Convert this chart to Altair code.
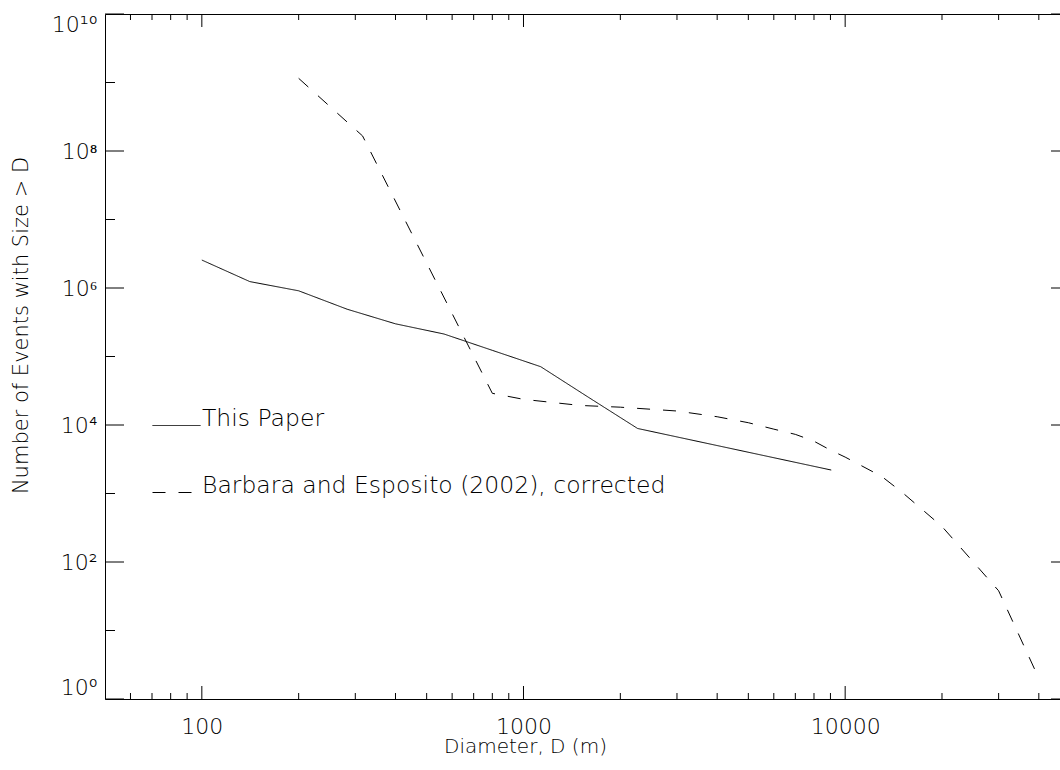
import altair as alt
import pandas as pd

# ---------------- data ----------------
this_x = [100, 141, 200, 283, 400, 566, 800, 1131, 1600, 2263, 9051]
this_y = [2.56e6, 1.24e6, 9.1e5, 4.9e5, 3.0e5, 2.13e5, 1.23e5, 7.1e4, 2.5e4, 8.9e3, 2.2e3]

be_x = [200, 316, 800, 1000, 1500, 2000, 3000, 4000, 5000, 6000, 7000, 8000,
        9000, 10000, 13000, 15000, 20000, 30000, 40000]
be_y = [1.15e9, 1.66e8, 2.9e4, 2.37e4, 1.93e4, 1.82e4, 1.6e4, 1.32e4, 1.08e4,
        8.7e3, 7.3e3, 5.8e3, 4.3e3, 3.4e3, 1.77e3, 1.05e3, 3.3e2, 38, 2.0]

series_names = ["This Paper", "Barbara and Esposito (2002), corrected"]

x_major = [100, 1000, 10000]
x_minor = [60, 70, 80, 90, 200, 300, 400, 500, 600, 700, 800, 900,
           2000, 3000, 4000, 5000, 6000, 7000, 8000, 9000, 20000, 30000, 40000]
y_major = [1, 1e2, 1e4, 1e6, 1e8, 1e10]
y_minor = [1e1, 1e3, 1e5, 1e7, 1e9]
y_labels = ["10\u2070", "10\u00b2", "10\u2074", "10\u2076", "10\u2078", "10\u00b9\u2070"]

x_domain = [50, 50000]
y_domain = [1, 1e10]

# ---------------- layout / style ----------------
W, H = 955, 685        # visible plot area
XR = 965               # full x range (right axis lies just beyond the page)
FONT = "DejaVu Sans"
FW = 200
INK = "#000000"

df = pd.concat([
    pd.DataFrame({"D": this_x, "N": this_y, "series": series_names[0]}),
    pd.DataFrame({"D": be_x, "N": be_y, "series": series_names[1]}),
])

label_expr = " : ".join(
    f"datum.value == {float(v)} ? '{lab}'" for v, lab in zip(y_major, y_labels)
) + " : ''"

xscale = alt.Scale(type="log", domain=x_domain, range=[0, XR], nice=False)
yscale = alt.Scale(type="log", domain=y_domain, nice=False)

xaxis = alt.Axis(values=x_major, format="d", ticks=False, domain=False, grid=False,
                 labelFont=FONT, labelFontWeight=FW, labelFontSize=22, labelColor=INK,
                 labelPadding=17, title="Diameter, D (m)", titleFont=FONT,
                 titleFontWeight=FW, titleFontSize=20, titleColor=INK,
                 titleX=420, titleY=53, titleBaseline="alphabetic", titleAnchor="middle")
yaxis = alt.Axis(values=y_major, labelExpr=label_expr, ticks=False, domain=False, grid=False,
                 labelFont=FONT, labelFontWeight=FW, labelFontSize=22, labelColor=INK,
                 labelPadding=8, labelFlush=True,
                 title="Number of Events with Size > D", titleFont=FONT,
                 titleFontWeight=FW, titleFontSize=21, titleColor=INK,
                 titleX=-84, titleY=311, titleBaseline="middle", titleAlign="center")


def X(field):
    return alt.X(field, type="quantitative", scale=xscale, axis=xaxis)


def Y(field):
    return alt.Y(field, type="quantitative", scale=yscale, axis=yaxis)


lines = alt.Chart(df).mark_line(color=INK, strokeWidth=1).encode(
    x=X("D"),
    y=Y("N"),
    strokeDash=alt.StrokeDash(
        "series:N",
        scale=alt.Scale(domain=series_names, range=[[1, 0], [13, 13]]),
        legend=alt.Legend(title=None, orient="none", legendX=47, legendY=387,
                          symbolType="stroke", symbolSize=2304, symbolStrokeWidth=1,
                          symbolStrokeColor=INK, labelFont=FONT, labelFontWeight=FW,
                          labelFontSize=23.5, labelColor=INK, labelOffset=1,
                          labelBaseline="alphabetic", rowPadding=38, padding=0,
                          labelLimit=0),
    ),
)

xmaj = pd.DataFrame({"v": x_major})
xmin = pd.DataFrame({"v": x_minor})
ymaj = pd.DataFrame({"v": y_major})
ymin = pd.DataFrame({"v": y_minor})

rule = dict(color=INK, strokeWidth=1)
ticks = [
    alt.Chart(xmaj).mark_rule(**rule).encode(x=X("v"), y=alt.value(H), y2=alt.value(H - 13)),
    alt.Chart(xmin).mark_rule(**rule).encode(x=X("v"), y=alt.value(H), y2=alt.value(H - 6)),
    alt.Chart(xmaj).mark_rule(**rule).encode(x=X("v"), y=alt.value(0), y2=alt.value(13)),
    alt.Chart(xmin).mark_rule(**rule).encode(x=X("v"), y=alt.value(0), y2=alt.value(6)),
    alt.Chart(ymaj).mark_rule(**rule).encode(y=Y("v"), x=alt.value(0), x2=alt.value(19)),
    alt.Chart(ymin).mark_rule(**rule).encode(y=Y("v"), x=alt.value(0), x2=alt.value(10)),
    alt.Chart(ymaj).mark_rule(**rule).encode(y=Y("v"), x=alt.value(XR), x2=alt.value(XR - 19)),
    alt.Chart(ymin).mark_rule(**rule).encode(y=Y("v"), x=alt.value(XR), x2=alt.value(XR - 10)),
]

chart = alt.layer(lines, *ticks).properties(
    width=W, height=H,
    autosize=alt.AutoSizeParams(type="none"),
    padding={"left": 105, "top": 14, "right": 0, "bottom": 71},
    background="white",
).configure_view(stroke=INK, strokeWidth=1)

chart.save("out.html", embed_options={"renderer": "svg", "actions": False})
